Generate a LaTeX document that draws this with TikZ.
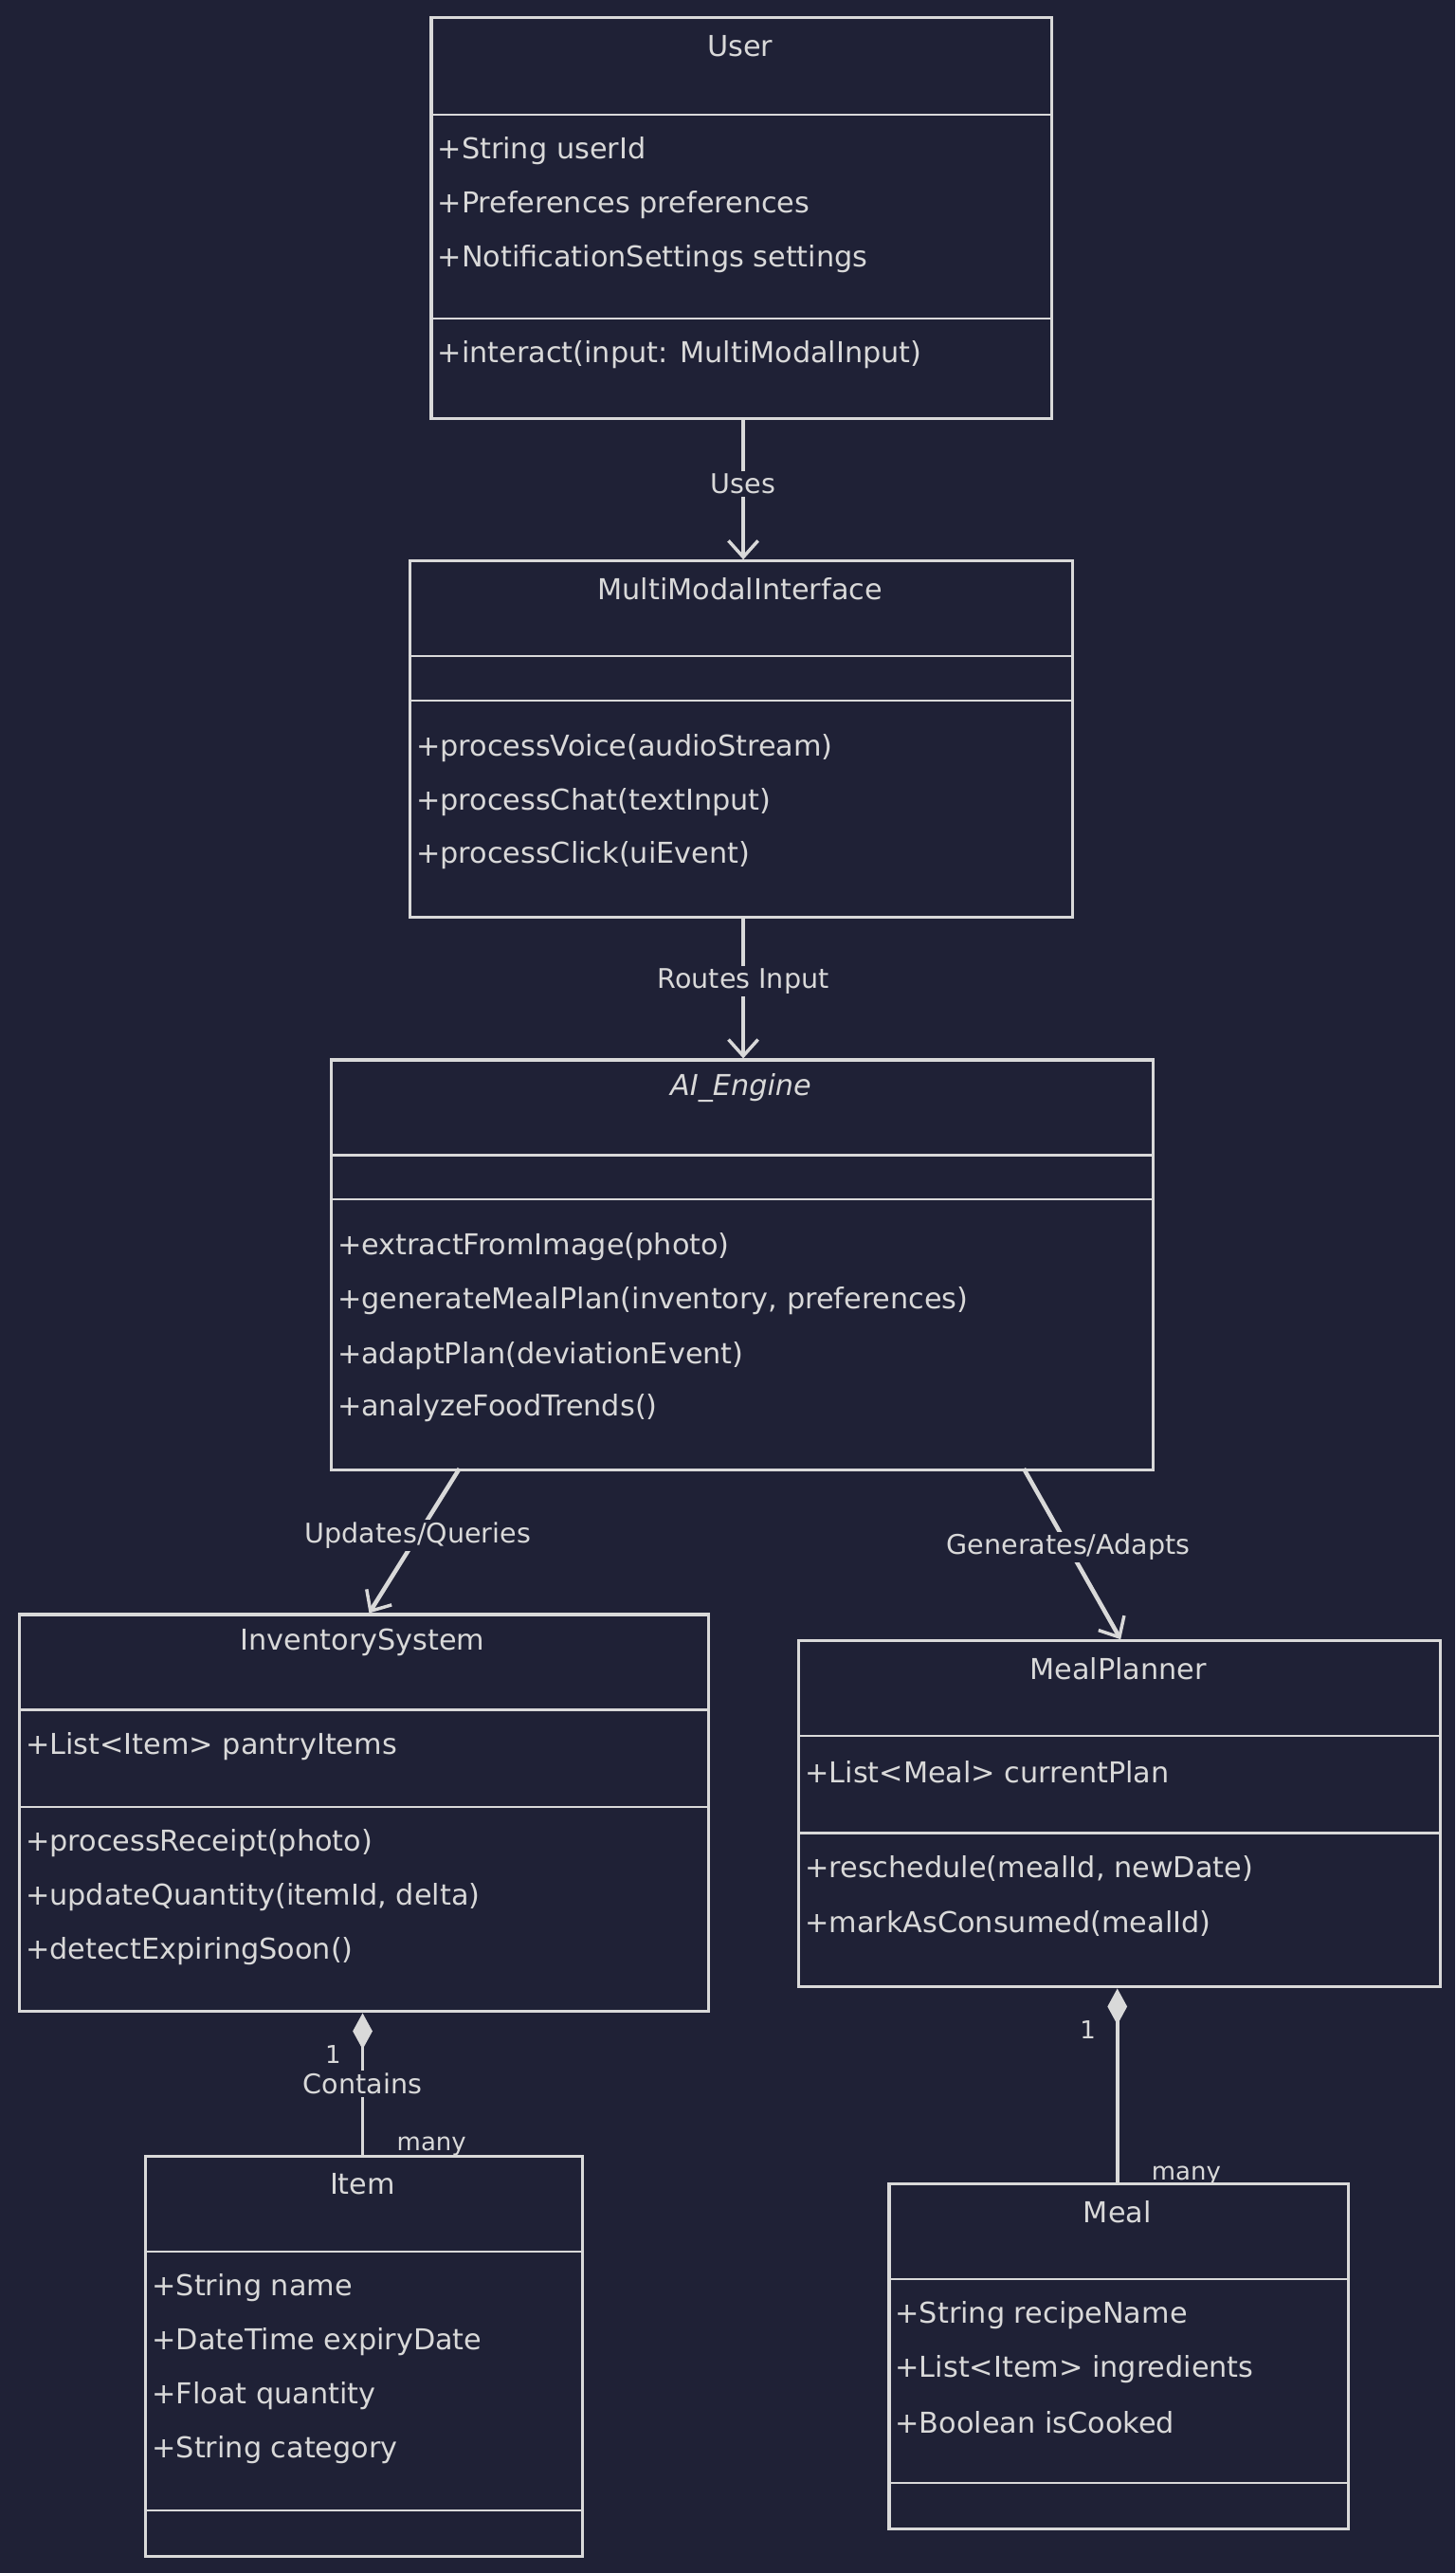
\documentclass[tikz,border=0pt]{standalone}
\usepackage{fontspec}
\setmainfont{DejaVu Sans}
\usetikzlibrary{arrows.meta}
\definecolor{bg}{HTML}{1F2136}
\definecolor{fg}{HTML}{D9D9D9}
\begin{document}
\begin{tikzpicture}[x=1pt,y=-1pt,
  box/.style={draw=fg,line width=1.8pt,anchor=north west,inner sep=0pt},
  ttl/.style={text=fg,font=\fontsize{17.5}{19}\selectfont},
  mem/.style={text=fg,anchor=west,inner sep=2.5pt,font=\fontsize{17.5}{19}\selectfont},
  lbl/.style={text=fg,fill=bg,inner sep=1.5pt,font=\fontsize{16.5}{18}\selectfont},
  sm/.style={text=fg,inner sep=1pt,font=\fontsize{15}{16}\selectfont},
  dep/.style={draw=fg,line width=2.6pt,-{Straight Barb[length=10pt,width=18pt,line width=2pt]}},
  comp/.style={draw=fg,line width=2.2pt,{Diamond[length=22pt,width=12pt,fill=fg]}-}]
\fill[bg] (0,0) rectangle (887,1568);
\useasboundingbox (0,0) rectangle (887,1568);
\newcommand{\umlbox}[8]{% name,x1,y1,x2,y2,l1,l2,title
  \node[box,minimum width=#4-#2,minimum height=#5-#3] (#1) at (#2,#3) {};
  \draw[fg,line width=1.3pt] (#2,#6) -- (#4,#6);
  \draw[fg,line width=1.3pt] (#2,#7) -- (#4,#7);
  \node[ttl] (#1-t) at ({(#2+#4)/2},{#3+18}) {#8};}
\umlbox{user}{262}{10}{640}{254}{70}{194}{User}
\node[mem] (u1) at (264,92) {+String userId};
\node[mem] (u2) at (264,125) {+Preferences preferences};
\node[mem] (u3) at (264,158) {+NotificationSettings settings};
\node[mem] (u4) at (264,216) {+interact(input: MultiModalInput)};
\umlbox{mmi}{249}{341}{653}{558}{400}{427}{MultiModalInterface}
\node[mem] (m1) at (251,456) {+processVoice(audioStream)};
\node[mem] (m2) at (251,489) {+processChat(textInput)};
\node[mem] (m3) at (251,521) {+processClick(uiEvent)};
\umlbox{ai}{201}{645}{702}{895}{704}{731}{\itshape AI\_Engine}
\node[mem] (a1) at (203,760) {+extractFromImage(photo)};
\node[mem] (a2) at (203,793) {+generateMealPlan(inventory, preferences)};
\node[mem] (a3) at (203,826) {+adaptPlan(deviationEvent)};
\node[mem] (a4) at (203,858) {+analyzeFoodTrends()};
\umlbox{inv}{11}{983}{431}{1225}{1042}{1101}{InventorySystem}
\node[mem] (i1) at (13,1064) {+List<Item> pantryItems};
\node[mem] (i2) at (13,1123) {+processReceipt(photo)};
\node[mem] (i3) at (13,1156) {+updateQuantity(itemId, delta)};
\node[mem] (i4) at (13,1189) {+detectExpiringSoon()};
\umlbox{mp}{486}{999}{877}{1210}{1058}{1117}{MealPlanner}
\node[mem] (p1) at (488,1080) {+List<Meal> currentPlan};
\node[mem] (p2) at (488,1139) {+reschedule(mealId, newDate)};
\node[mem] (p3) at (488,1172) {+markAsConsumed(mealId)};
\umlbox{item}{88}{1313}{354}{1557}{1372}{1530}{Item}
\node[mem] (t1) at (90,1394) {+String name};
\node[mem] (t2) at (90,1427) {+DateTime expiryDate};
\node[mem] (t3) at (90,1460) {+Float quantity};
\node[mem] (t4) at (90,1493) {+String category};
\umlbox{meal}{541}{1330}{821}{1540}{1389}{1513}{Meal}
\node[mem] (e1) at (543,1411) {+String recipeName};
\node[mem] (e2) at (543,1444) {+List<Item> ingredients};
\node[mem] (e3) at (543,1476) {+Boolean isCooked};
\draw[dep] (user.south -| 453,0) -- (mmi.north -| 453,0) node[lbl,pos=0.46] {Uses};
\draw[dep] (mmi.south -| 453,0) -- (ai.north -| 453,0) node[lbl,pos=0.45] {Routes Input};
\coordinate (a1s) at (280,895); \coordinate (i1n) at (225,983);
\coordinate (a2s) at (624,895); \coordinate (p1n) at (683,999);
\draw[dep] (a1s) -- (i1n) node[lbl,pos=0.46] {Updates/Queries};
\draw[dep] (a2s) -- (p1n) node[lbl,pos=0.46] {Generates/Adapts};
\draw[comp] (inv.south -| 221,0) -- (item.north -| 221,0) node[lbl,pos=0.5] {Contains};
\draw[comp] (mp.south -| 681,0) -- (meal.north -| 681,0);
\node[sm] (n1) at (203,1252) {1};
\node[sm] (n2) at (263,1308) {many};
\node[sm] (n3) at (663,1237) {1};
\node[sm] (n4) at (723,1326) {many};
\end{tikzpicture}
\end{document}
